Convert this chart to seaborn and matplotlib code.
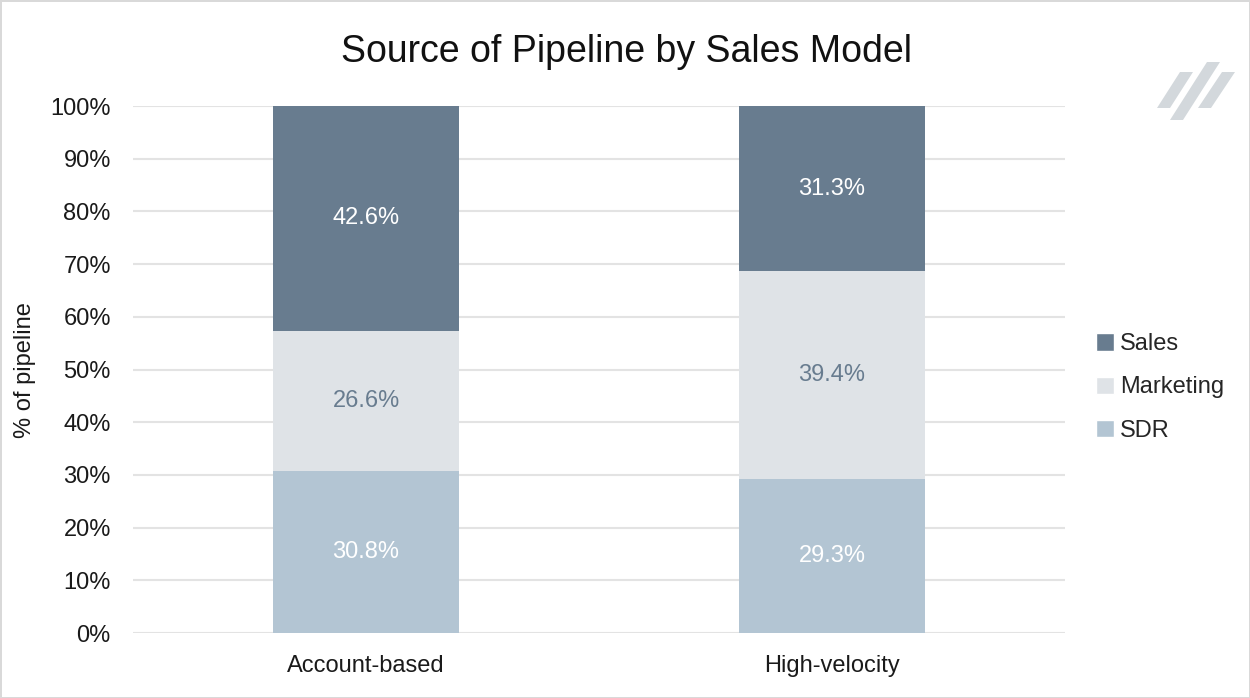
import numpy as np
import pandas as pd
import matplotlib
matplotlib.use("Agg")
import matplotlib.pyplot as plt
from matplotlib.patches import Polygon, Patch
import seaborn as sns

# ----------------------------
# Data
# ----------------------------
models = ["Account-based", "High-velocity"]
sdr = [30.8, 29.3]
marketing = [26.6, 39.4]
sales = [42.6, 31.3]

series = ["SDR", "Marketing", "Sales"]
colors = {"SDR": "#b3c5d3", "Marketing": "#dfe3e7", "Sales": "#687c8f"}
label_colors = {"SDR": "white", "Marketing": "#687c8f", "Sales": "white"}

df = pd.DataFrame({"model": models, "SDR": sdr, "Marketing": marketing, "Sales": sales})

sns.set_theme(style="white")
plt.rcParams["font.family"] = ["Liberation Sans", "DejaVu Sans"]

fig = plt.figure(figsize=(12.5, 6.98), dpi=100)
fig.patch.set_edgecolor("#d9d9d9")
fig.patch.set_linewidth(2)
ax = fig.add_axes([0.1064, 0.093, 0.7456, 0.755])

# stacked bars: draw cumulative totals, tallest first
bottoms = np.zeros(len(models))
tops = {}
for s in series:
    tops[s] = (bottoms.copy(), bottoms + df[s].values)
    bottoms = bottoms + df[s].values

for s in reversed(series):
    lo, hi = tops[s]
    sns.barplot(x=df["model"], y=hi, color=colors[s], width=0.4, ax=ax,
                saturation=1, zorder=3, linewidth=0)

# segment labels
for s in series:
    lo, hi = tops[s]
    for i in range(len(models)):
        ax.text(i, (lo[i] + hi[i]) / 2, f"{df[s].values[i]:.1f}%",
                ha="center", va="center", fontsize=17, color=label_colors[s], zorder=4)

ax.set_xlim(-0.5, 1.5)
ax.set_ylim(0, 100)
ax.set_yticks(np.arange(0, 101, 10))
ax.set_yticklabels([f"{v}%" for v in range(0, 101, 10)])
ax.yaxis.grid(True, color="#e3e3e3", linewidth=1.5, zorder=0)
ax.set_axisbelow(True)
for sp in ax.spines.values():
    sp.set_visible(False)
ax.tick_params(axis="y", length=0, labelsize=17, colors="#1a1a1a", pad=16)
ax.tick_params(axis="x", length=0, labelsize=17, colors="#1a1a1a", pad=16)
ax.set_xlabel("")
ax.set_ylabel("% of pipeline", fontsize=17, color="#1a1a1a", labelpad=10)

fig.suptitle("Source of Pipeline by Sales Model", x=0.501, y=0.952, fontsize=27, color="#111111")

# legend
handles = [Patch(facecolor=colors[s], label=s) for s in ["Sales", "Marketing", "SDR"]]
fig.legend(handles=handles, loc="center left", bbox_to_anchor=(0.86, 0.445),
           frameon=False, fontsize=17, handlelength=0.75, handleheight=0.75,
           handletextpad=0.25, labelspacing=0.9)

# logo (three slanted strokes)
logo_color = "#d3d8dc"
w, h = 1250, 698
strokes = [
    [(1157, 108), (1170, 108), (1193, 72), (1180, 72)],
    [(1170, 120), (1183, 120), (1220, 62), (1207, 62)],
    [(1198, 108), (1211, 108), (1235, 72), (1222, 72)],
]
for pts in strokes:
    poly = Polygon([(px / w, 1 - py / h) for px, py in pts], closed=True,
                   transform=fig.transFigure, facecolor=logo_color, edgecolor="none")
    fig.patches.append(poly)

fig.savefig("out.png", dpi=100)
